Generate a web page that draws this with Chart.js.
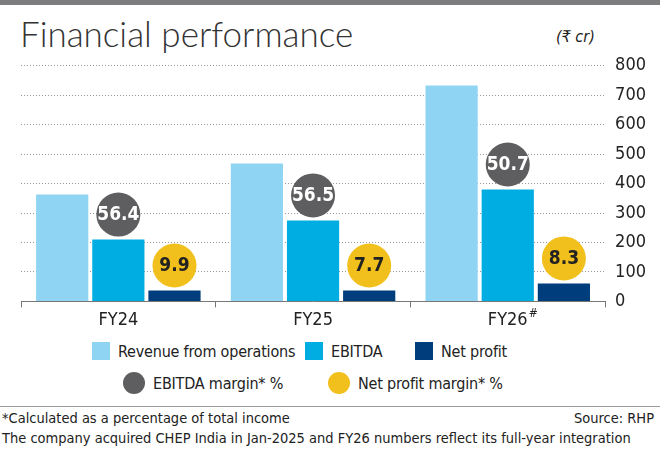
<!DOCTYPE html>
<html><head><meta charset="utf-8">
<script src="https://cdn.jsdelivr.net/npm/chart.js@4"></script>
<style>
body{margin:0;width:660px;height:451px;background:#fff;position:relative;overflow:hidden;font-family:"DejaVu Sans Condensed",sans-serif;color:#222}
#bar{position:absolute;left:0;top:0;width:660px;height:5px;background:#7d7d80}
#title{position:absolute;left:20px;top:12px;font-family:Lato,"Open Sans";font-weight:300;font-size:35px;color:#333}
#unit{position:absolute;left:556px;top:27px;font-style:italic;font-size:16px}
#wrap{position:absolute;left:0;top:45px;width:660px;height:288px}
.lg{position:absolute;font-size:16px;white-space:nowrap;letter-spacing:-0.2px}
.sq{display:inline-block;width:18px;height:18px;vertical-align:-3px;margin-right:8px}
.ci{display:inline-block;width:22px;height:22px;border-radius:50%;vertical-align:-5px;margin-right:8px}
#rule{position:absolute;left:0;top:406px;width:660px;height:1px;background:#999}
.ft{position:absolute;font-size:14.5px;white-space:nowrap}
</style></head><body>
<div id="bar"></div>
<div id="title">Financial performance</div>
<div id="unit">(₹ cr)</div>
<div id="wrap"><canvas id="c"></canvas></div>
<div class="lg" style="left:92px;top:342px"><span class="sq" style="background:#8fd4f3"></span>Revenue from operations</div>
<div class="lg" style="left:305px;top:342px"><span class="sq" style="background:#00ade2"></span>EBITDA</div>
<div class="lg" style="left:415px;top:342px"><span class="sq" style="background:#003d7c"></span>Net profit</div>
<div class="lg" style="left:123px;top:372px"><span class="ci" style="background:#5e5e60"></span>EBITDA margin* %</div>
<div class="lg" style="left:328px;top:372px"><span class="ci" style="background:#f2c01d"></span>Net profit margin* %</div>
<div id="rule"></div>
<div class="ft" style="left:2px;top:410px">*Calculated as a percentage of total income</div>
<div class="ft" style="right:6px;top:410px">Source: RHP</div>
<div class="ft" style="left:2px;top:430px">The company acquired CHEP India in Jan-2025 and FY26 numbers reflect its full-year integration</div>
<script>
const categories=["FY24","FY25","FY26#"];
const revenue=[363,468,733];
const ebitda=[210,275,380];
const netProfit=[37,37,61];
const ebitdaMargin=[56.4,56.5,50.7];
const netMargin=[9.9,7.7,8.3];
const yTicks=[0,100,200,300,400,500,600,700,800];
const FONT='"DejaVu Sans Condensed",sans-serif';
const bubbles={id:'bubbles',afterDatasetsDraw(ch){
  const ctx=ch.ctx;
  const spec=[[1,ebitdaMargin,'#5e5e60','#fff'],[2,netMargin,'#f2c01d','#222']];
  spec.forEach(([di,vals,bg,fg])=>{
    ch.getDatasetMeta(di).data.forEach((el,i)=>{
      const r=22,cx=el.x,cy=el.y-25;
      ctx.save();ctx.beginPath();ctx.arc(cx,cy,r,0,Math.PI*2);ctx.fillStyle=bg;ctx.fill();
      ctx.fillStyle=fg;ctx.font='bold 19px '+FONT;ctx.textAlign='center';ctx.textBaseline='middle';
      ctx.fillText(vals[i].toFixed(1),cx,cy+1);ctx.restore();
    });
  });
}};
new Chart(document.getElementById('c'),{
  type:'bar',
  data:{labels:categories,datasets:[
    {data:revenue,backgroundColor:'#8fd4f3'},
    {data:ebitda,backgroundColor:'#00ade2'},
    {data:netProfit,backgroundColor:'#003d7c'}]},
  options:{responsive:true,maintainAspectRatio:false,animation:false,
    layout:{padding:{left:21,right:4,top:8,bottom:0}},
    categoryPercentage:0.865,barPercentage:0.93,
    plugins:{legend:{display:false},tooltip:{enabled:false}},
    scales:{
      x:{grid:{display:true,drawOnChartArea:false,tickLength:6,offset:true,color:'#777'},border:{color:'#777'},
        ticks:{color:'#222',font:{family:FONT,size:18},padding:2,
          callback:(v,i)=>categories[i].replace('#','')}},
      y:{position:'right',min:0,max:800,afterBuildTicks:s=>{s.ticks=yTicks.map(v=>({value:v}));},
        grid:{color:'#999',tickLength:0,drawTicks:false},border:{display:false,dash:[1,2]},
        ticks:{color:'#222',font:{family:FONT,size:18},padding:10}}
    }},
  plugins:[bubbles,{id:'hash',afterDraw(ch){const x=ch.scales.x;const ctx=ch.ctx;const px=x.getPixelForTick(2);
    ctx.save();ctx.font='12px '+FONT;ctx.fillStyle='#222';ctx.fillText('#',px+21,ch.chartArea.bottom+16);ctx.restore();}}]
});
</script></body></html>
